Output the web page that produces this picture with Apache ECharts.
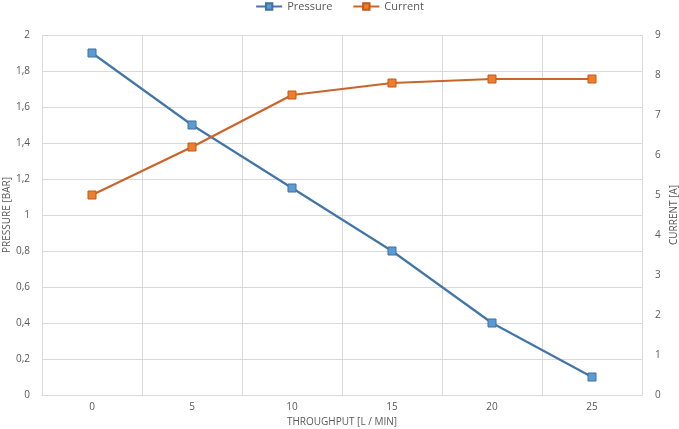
<!DOCTYPE html>
<html>
<head>
<meta charset="utf-8">
<script src="https://cdn.jsdelivr.net/npm/echarts@6/dist/echarts.min.js"></script>
<style>
  html, body { margin: 0; padding: 0; background: #fff; }
  #main { width: 679px; height: 429px; }
</style>
</head>
<body>
<div id="main"></div>
<script>
const throughput = ['0', '5', '10', '15', '20', '25'];
const pressure = [1.9, 1.5, 1.15, 0.8, 0.4, 0.1];
const current = [5.0, 6.2, 7.5, 7.8, 7.9, 7.9];

const chartDom = document.getElementById('main');
const myChart = echarts.init(chartDom);

const font = 'Open Sans';
const textGray = '#595959';

const myChartOption = {
  animation: false,
  textStyle: { fontFamily: font },
  legend: {
    top: 1,
    left: 'center',
    padding: [0, 5, 0, 5],
    itemWidth: 26,
    itemHeight: 8,
    itemGap: 20,
    textStyle: { color: textGray, fontSize: 11, fontFamily: font },
    data: ['Pressure', 'Current']
  },
  grid: {
    left: 42, right: 37, top: 35, bottom: 34,
    containLabel: false,
    outerBoundsMode: 'none'
  },
  xAxis: {
    type: 'category',
    data: throughput,
    boundaryGap: true,
    name: 'THROUGHPUT [L / MIN]',
    nameLocation: 'middle',
    nameGap: 22,
    nameMoveOverlap: false,
    nameTextStyle: { color: textGray, fontSize: 10 },
    axisLine: { lineStyle: { color: '#d9d9d9' } },
    axisTick: { show: false },
    axisLabel: { color: textGray, fontSize: 10, margin: 7 },
    splitLine: { show: true, lineStyle: { color: '#d9d9d9' } }
  },
  yAxis: [
    {
      type: 'value',
      min: 0,
      max: 2,
      interval: 0.2,
      name: 'PRESSURE [BAR]',
      nameLocation: 'middle',
      nameGap: 30,
      nameMoveOverlap: false,
      nameTextStyle: { color: textGray, fontSize: 10 },
      axisLine: { show: false },
      axisTick: { show: false },
      axisLabel: {
        color: textGray,
        fontSize: 10,
        margin: 12,
        formatter: v => String(Math.round(v * 10) / 10).replace('.', ',')
      },
      splitLine: { show: true, lineStyle: { color: '#d9d9d9' } }
    },
    {
      type: 'value',
      min: 0,
      max: 9,
      interval: 1,
      name: 'CURRENT [A]',
      nameLocation: 'middle',
      nameGap: 27,
      nameMoveOverlap: false,
      nameTextStyle: { color: textGray, fontSize: 10 },
      axisLine: { show: false },
      axisTick: { show: false },
      axisLabel: { color: textGray, fontSize: 10, margin: 13 },
      splitLine: { show: false }
    }
  ],
  series: [
    {
      name: 'Pressure',
      type: 'line',
      yAxisIndex: 0,
      data: pressure,
      symbol: 'rect',
      symbolSize: 8,
      lineStyle: { color: '#4275a8', width: 2.2 },
      itemStyle: { color: '#5b9bd5', borderColor: '#41719c', borderWidth: 1 }
    },
    {
      name: 'Current',
      type: 'line',
      yAxisIndex: 1,
      data: current,
      symbol: 'rect',
      symbolSize: 8,
      lineStyle: { color: '#c9642a', width: 2.2 },
      itemStyle: { color: '#ed7d31', borderColor: '#c55a11', borderWidth: 1 }
    }
  ]
};

myChartOption && myChart.setOption(myChartOption);
</script>
</body>
</html>
